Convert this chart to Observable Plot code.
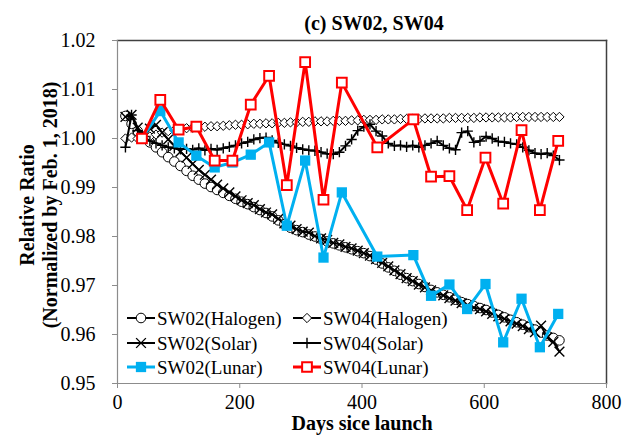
<!DOCTYPE html>
<html><head><meta charset="utf-8">
<script src="https://cdn.jsdelivr.net/npm/d3@7"></script>
<script src="https://cdn.jsdelivr.net/npm/@observablehq/plot@0.6"></script>
<style>body{margin:0;background:#fff;}</style>
</head><body><div id="chart"></div>
<script>
// ---- data ----
const titleText = "(c) SW02, SW04";
const xLabel = "Days sice launch";
const yLabel1 = "Relative Ratio";
const yLabel2 = "(Normalized by Feb. 1, 2018)";
const xTicks = [0, 200, 400, 600, 800];
const yTicks = [0.95, 0.96, 0.97, 0.98, 0.99, 1.00, 1.01, 1.02];

const days = [13,23,33,43,53,63,73,83,93,103,113,123,133,143,153,163,173,183,193,203,
  213,223,233,243,253,263,273,283,293,303,313,323,333,343,353,363,373,383,393,403,
  413,423,433,443,453,463,473,483,493,503,513,523,533,543,553,563,573,583,593,603,
  613,623,633,643,653,663,673,683,693,703,713,723];

const sw02Halogen = [1.0046,1.0030,1.0015,1.0003,0.9992,0.9982,0.9972,0.9962,0.9953,0.9944,
  0.9934,0.9924,0.9916,0.9908,0.9901,0.9895,0.9889,0.9883,0.9877,0.9871,
  0.9866,0.9860,0.9854,0.9848,0.9841,0.9833,0.9825,0.9818,0.9813,0.9809,
  0.9804,0.9800,0.9795,0.9790,0.9786,0.9782,0.9778,0.9774,0.9770,0.9766,
  0.9760,0.9753,0.9745,0.9737,0.9730,0.9722,0.9715,0.9709,0.9703,0.9697,
  0.9691,0.9686,0.9681,0.9676,0.9671,0.9666,0.9662,0.9658,0.9654,0.9650,
  0.9645,0.9640,0.9635,0.9630,0.9625,0.9620,0.9615,0.9610,0.9604,0.9598,
  0.9593,0.9588];

const sw04Halogen = [1.0000,1.0002,1.0000,1.0001,1.0004,1.0008,1.0012,1.0015,1.0017,1.0019,
  1.0021,1.0022,1.0023,1.0024,1.0025,1.0025,1.0026,1.0027,1.0028,1.0028,
  1.0029,1.0030,1.0030,1.0031,1.0031,1.0032,1.0032,1.0033,1.0033,1.0034,
  1.0034,1.0035,1.0035,1.0035,1.0036,1.0036,1.0036,1.0037,1.0037,1.0038,
  1.0038,1.0038,1.0039,1.0039,1.0039,1.0040,1.0040,1.0040,1.0040,1.0041,
  1.0041,1.0041,1.0041,1.0042,1.0042,1.0042,1.0042,1.0042,1.0043,1.0043,
  1.0043,1.0043,1.0043,1.0043,1.0044,1.0044,1.0044,1.0044,1.0044,1.0044,
  1.0044,1.0044];

const sw02Solar = [1.0044,1.0048,1.0022,1.0005,1.0020,1.0028,1.0012,0.9998,0.9985,0.9973,
  0.9961,0.9948,0.9936,0.9926,0.9916,0.9906,0.9898,0.9890,0.9882,0.9874,
  0.9868,0.9864,0.9856,0.9849,0.9845,0.9836,0.9827,0.9822,0.9815,0.9810,
  0.9808,0.9801,0.9796,0.9793,0.9787,0.9784,0.9779,0.9776,0.9771,0.9766,
  0.9761,0.9754,0.9746,0.9739,0.9731,0.9723,0.9715,0.9709,0.9702,0.9696,
  0.9690,0.9684,0.9680,0.9674,0.9669,0.9664,0.9660,0.9655,0.9652,0.9647,
  0.9642,0.9637,0.9632,0.9627,0.9622,0.9617,0.9611,0.9605,0.9618,0.9594,
  0.9585,0.9565];

const sw04Solar = [0.9982,1.0048,1.0016,1.0004,0.9995,0.9990,0.9986,0.9982,0.9980,0.9978,
  0.9979,0.9977,0.9980,0.9976,0.9979,0.9977,0.9980,0.9983,0.9986,0.9990,
  0.9993,0.9998,1.0001,1.0002,0.9996,0.9991,0.9988,0.9985,0.9981,0.9978,
  0.9976,0.9975,0.9972,0.9969,0.9968,0.9972,0.9985,0.9998,1.0016,1.0024,
  1.0029,1.0015,1.0005,0.9990,0.9985,0.9986,0.9983,0.9986,0.9982,0.9986,
  0.9990,0.9995,0.9986,0.9980,0.9977,1.0012,1.0015,0.9992,0.9995,1.0004,
  1.0000,0.9994,0.9993,0.9990,0.9988,0.9982,0.9976,0.9970,0.9968,0.9970,
  0.9965,0.9956];

const lunarDays = [40,70,100,129,159,188,218,248,277,307,337,367,425,484,513,543,572,602,631,661,691,721];
const sw02Lunar = [1.0000,1.0056,0.9992,0.9965,0.9941,0.9951,0.9967,0.9992,0.9822,0.9955,0.9757,0.9890,
  0.9759,0.9762,0.9679,0.9702,0.9652,0.9703,0.9584,0.9673,0.9574,0.9642];
const sw04Lunar = [1.0000,1.0079,1.0018,1.0024,0.9955,0.9955,1.0069,1.0128,0.9905,1.0156,0.9875,1.0114,
  0.9982,1.0039,0.9922,0.9923,0.9854,0.9961,0.9867,1.0017,0.9854,0.9995];

// ---- build ----
const rows = (xs, ys) => xs.map((d, i) => ({day: d, v: ys[i]}));
const H2 = rows(days, sw02Halogen), H4 = rows(days, sw04Halogen);
const S2 = rows(days, sw02Solar), S4 = rows(days, sw04Solar);
const L2 = rows(lunarDays, sw02Lunar), L4 = rows(lunarDays, sw04Lunar);

const font = "'Liberation Serif', 'Times New Roman', serif";
const BLUE = "#00B0F0", RED = "#FF0000";
const series = [
  {label: "SW02(Halogen)", data: H2, color: "black", lw: 2, symbol: "circle", r: 4.8, fill: "white", sw: 1, sym: d3.symbolCircle},
  {label: "SW04(Halogen)", data: H4, color: "black", lw: 2, symbol: "diamond2", r: 4.2, fill: "white", sw: 1, sym: d3.symbolDiamond2},
  {label: "SW02(Solar)", data: S2, color: "black", lw: 2, symbol: "times", r: 4.5, fill: "none", sw: 1.4, sym: d3.symbolTimes},
  {label: "SW04(Solar)", data: S4, color: "black", lw: 2, symbol: "plus", r: 3.4, fill: "none", sw: 1.4, sym: d3.symbolPlus},
  {label: "SW02(Lunar)", data: L2, color: BLUE, lw: 3, symbol: "square", r: 5.8, fill: BLUE, sw: 0, sym: d3.symbolSquare},
  {label: "SW04(Lunar)", data: L4, color: RED, lw: 3, symbol: "square", r: 5.5, fill: "white", sw: 2, sym: d3.symbolSquare}
];

const seriesMarks = series.flatMap(s => [
  Plot.line(s.data, {x: "day", y: "v", stroke: s.color, strokeWidth: s.lw}),
  Plot.dot(s.data, {x: "day", y: "v", symbol: s.symbol, r: s.r, fill: s.fill, stroke: s.color, strokeWidth: s.sw})
]);

const txt = {fontWeight: "bold", fontSize: 20, fill: "black", fontFamily: font, text: d => d};

const chart = Plot.plot({
  width: 623, height: 443,
  marginLeft: 117, marginRight: 17, marginTop: 40, marginBottom: 60,
  style: {fontFamily: font, fontSize: "20px", color: "black", background: "white"},
  x: {domain: [0, 800], ticks: xTicks},
  y: {domain: [0.95, 1.02], ticks: yTicks},
  marks: [
    Plot.frame({anchor: "top", stroke: "#404040", strokeWidth: 1.5}),
    Plot.frame({anchor: "right", stroke: "#404040", strokeWidth: 1.5}),
    Plot.frame({anchor: "left", stroke: "#8c8c8c", strokeWidth: 1.2}),
    Plot.frame({anchor: "bottom", stroke: "#8c8c8c", strokeWidth: 1.2}),
    Plot.axisX({ticks: xTicks, tickSize: 5, tickPadding: 6, stroke: "#8c8c8c", fill: "black", fontSize: 20, fontFamily: font, label: null, tickFormat: d => String(d)}),
    Plot.axisY({ticks: yTicks, tickSize: 5, tickPadding: 17, tickFormat: ".2f", stroke: "#8c8c8c", fill: "black", fontSize: 20, fontFamily: font, label: null}),
    ...seriesMarks,
    Plot.text([titleText], {...txt, frameAnchor: "top", dx: 12, dy: -25}),
    Plot.text([xLabel], {...txt, frameAnchor: "bottom", dy: 46}),
    Plot.text([yLabel1], {...txt, frameAnchor: "left", textAnchor: "middle", rotate: -90, dx: -90, dy: -7}),
    Plot.text([yLabel2], {...txt, frameAnchor: "left", textAnchor: "middle", rotate: -90, dx: -67, dy: -7})
  ]
});

// ---- legend (inside plot, bottom-left) ----
const svg = d3.select(chart);
const lg = svg.append("g").style("font-family", font).style("font-size", "19px").attr("text-anchor", "start");
const colX = [127, 293], rowY = [318, 343, 367], lineLen = 28;
series.forEach((s, i) => {
  const cx = colX[i % 2], cy = rowY[Math.floor(i / 2)];
  lg.append("line").attr("x1", cx).attr("x2", cx + lineLen).attr("y1", cy).attr("y2", cy)
    .attr("stroke", s.color).attr("stroke-width", s.lw);
  lg.append("path").attr("d", d3.symbol(s.sym, Math.PI * s.r * s.r)())
    .attr("transform", `translate(${cx + lineLen / 2},${cy})`)
    .attr("fill", s.fill).attr("stroke", s.sw ? s.color : "none").attr("stroke-width", s.sw);
  lg.append("text").attr("x", cx + lineLen + 2).attr("y", cy).attr("dy", "0.35em")
    .attr("text-anchor", "start").attr("fill", "black").text(s.label);
});

document.getElementById("chart").appendChild(chart);
</script>
</body></html>
